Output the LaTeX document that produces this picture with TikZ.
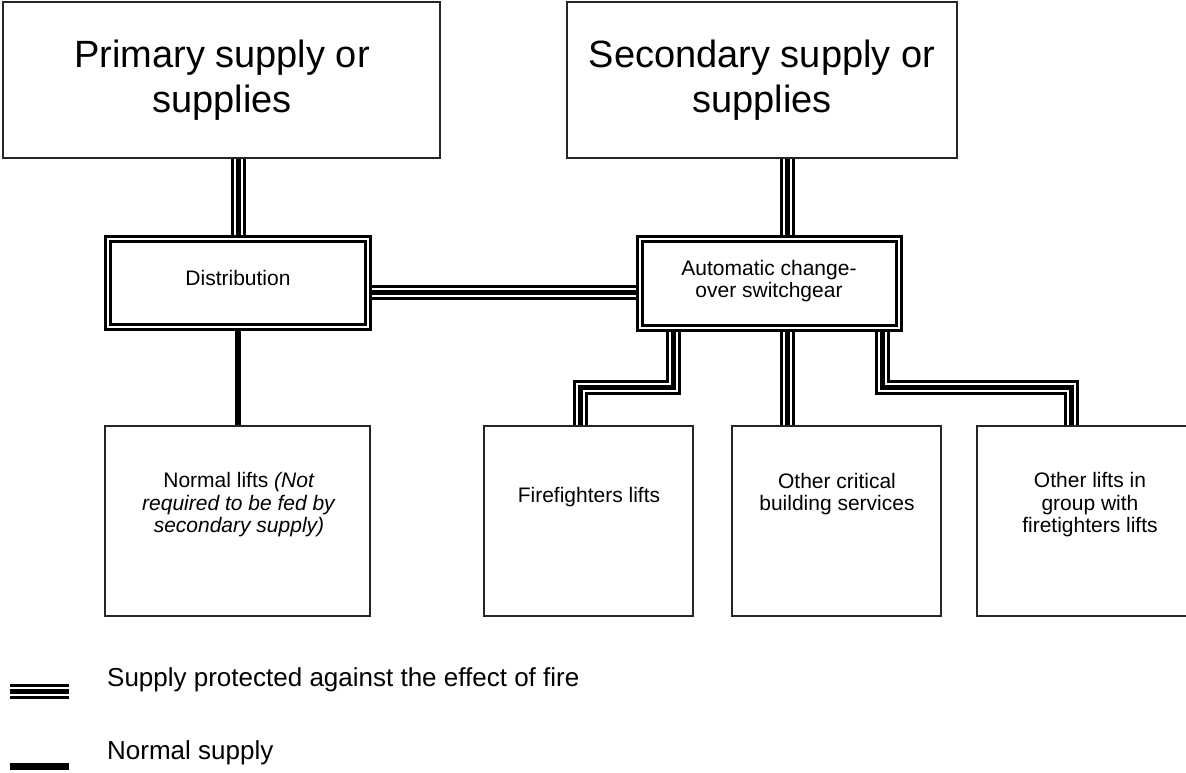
\documentclass[tikz,border=0pt]{standalone}
\usepackage{fontspec}
\setmainfont{Liberation Sans}
\usetikzlibrary{positioning}
\pgfdeclarelayer{background}
\pgfsetlayers{background,main}
\tikzset{
  sbox/.style={draw=black!85, line width=1.5pt, fill=white, inner sep=0pt},
  dbox/.style={draw=black, double=white, double distance=2.5pt, line width=2.8pt, fill=white, inner sep=0pt},
  lbl/.style={align=center, font=\fontsize{21}{22.5}\selectfont, inner sep=0pt},
  title/.style={align=center, font=\fontsize{38}{45}\selectfont, inner sep=0pt},
  leg/.style={anchor=base west, font=\fontsize{26}{30}\selectfont, inner sep=0pt},
  fire/.style={line width=15pt, draw=black, line join=miter,
    postaction={draw=white, line width=9pt},
    postaction={draw=black, line width=5pt}},
  normal/.style={line width=6.5pt, draw=black},
}
\begin{document}
\begin{tikzpicture}[x=1pt,y=-1pt]
\useasboundingbox (0,0) rectangle (1186,772);
% top boxes
\node[sbox, minimum width=437pt, minimum height=156pt] (prim) at (221.5,80) {};
\node[title] (primt) at (222,80) {Primary supply or\\supplies};
\node[sbox, minimum width=390pt, minimum height=156pt] (sec) at (762,80) {};
\node[title] (sect) at (762,80) {Secondary supply or\\supplies};
% double boxes
\node[dbox, minimum width=260pt, minimum height=88pt] (dist) at (238,283) {};
\node[lbl] (distt) at (238,278) {Distribution};
\node[dbox, minimum width=259pt, minimum height=89pt] (auto) at (769.5,283.5) {};
\node[lbl] (autot) at (769,281) {Automatic change-\\over switchgear};
% lower boxes
\node[sbox, minimum width=265pt, minimum height=190pt] (norm) at (237.5,521) {};
\node[lbl] (normt) at (239,505) {Normal lifts \textit{(Not}\\\textit{required to be fed by}\\\textit{secondary supply)}};
\node[sbox, minimum width=209pt, minimum height=190pt] (ff) at (588.5,521) {};
\node[lbl] (fft) at (589,497) {Firefighters lifts};
\node[sbox, minimum width=209pt, minimum height=190pt] (crit) at (836.5,521) {};
\node[lbl] (critt) at (837,494) {Other critical\\building services};
\node[sbox, minimum width=224pt, minimum height=190pt] (oth) at (1089,521) {};
\node[lbl] (otht) at (1090,505) {Other lifts in\\group with\\firetighters lifts};
% junction coordinates
\coordinate (j1) at (673,387);
\coordinate (j2) at (580,387);
\coordinate (j3) at (882,387);
\coordinate (j4) at (1071,387);
\begin{pgfonlayer}{background}
\draw[fire] (prim.south -| 238,0) -- (dist.north -| 238,0);
\draw[fire] (sec.south -| 787,0) -- (auto.north -| 787,0);
\draw[fire] (dist.east |- 0,292) -- (auto.west |- 0,292);
\draw[normal] (dist.south -| 238,0) -- (norm.north -| 238,0);
\draw[fire] (auto.south -| j1) -- (j1) -- (j2) -- (ff.north -| j2);
\draw[fire] (auto.south -| 787,0) -- (crit.north -| 787,0);
\draw[fire] (auto.south -| j3) -- (j3) -- (j4) -- (oth.north -| j4);
\end{pgfonlayer}
% legend
\coordinate (lf1) at (10,691);
\coordinate (lf2) at (69,691);
\draw[fire] (lf1) -- (lf2);
\coordinate (ln1) at (10,766.5);
\coordinate (ln2) at (69,766.5);
\draw[normal, line width=7pt] (ln1) -- (ln2);
\node[leg] (legf) at (107,686) {Supply protected against the effect of fire};
\node[leg] (legn) at (107,759) {Normal supply};
\end{tikzpicture}
\end{document}
